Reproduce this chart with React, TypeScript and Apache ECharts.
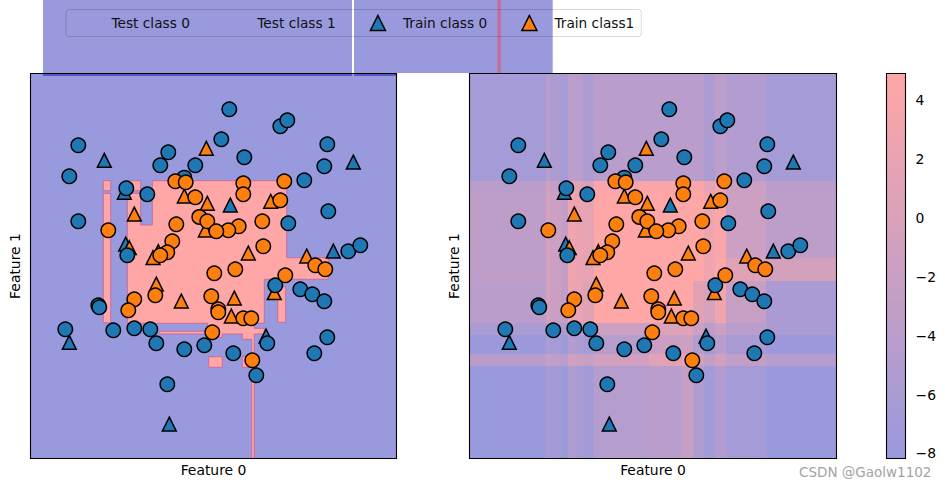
import React, { useEffect, useRef } from "react";
import * as echarts from "echarts";

// Both panels share one feature scale.
const testClass0: number[][] = [
  [229.3,109.3],[280.3,126.3],[287.3,120.3],[78.3,145.3],[327.3,144.3],[221.3,139.3],[168.3,152.3],[160.3,165.3],
  [195.3,165.3],[244.3,157.3],[324.3,166.3],[69.3,176.3],[304.3,180.3],[184.3,177.7],[126.3,188.3],[147.3,194.3],
  [78.3,221.3],[328.3,211.3],[288.3,223.3],[127.3,255.3],[348.3,251.3],[360.3,245.3],[275.3,285.3],[300.3,289.3],
  [312.3,294.3],[324.3,301.3],[98.3,305.3],[99.3,307.3],[65.3,329.3],[113.3,330.3],[134.3,328.3],[150.3,329.3],
  [156.3,343.3],[184.3,349.3],[204.3,345.3],[233.3,353.3],[267.3,343.3],[327.3,337.3],[314.3,353.3],[256.3,375.3],
  [167.3,384.3],
];
const testClass1: number[][] = [
  [175.3,181.3],[185.7,182.3],[243.3,183.3],[243.3,194.3],[284.3,181.3],[280.3,200.3],[195.3,197.3],[199.3,217],
  [207.3,221.3],[176.3,224.3],[262.3,221.3],[238.7,226.3],[228.3,230.3],[216.3,231.3],[108.3,230.3],[172.3,241.3],
  [263.3,246.3],[167.3,252.3],[160.3,255.3],[214.3,273.3],[235.3,269.3],[285.3,275.3],[315.3,265.3],[325.3,269.3],
  [134.3,299.3],[155.3,295.3],[128.3,310.3],[211.3,296.3],[218.3,309.3],[218.3,312.3],[243.3,318.3],[251.3,318.3],
  [212.3,332.3],[252.3,360.3],
];
const trainClass0: number[][] = [
  [104.3,160.3],[353.3,162],[124.3,192.3],[230.3,205],[125.7,244],[333.3,251],[69.3,342.3],[266,336],[169.3,424],
];
const trainClass1: number[][] = [
  [206.3,148.3],[184.3,196],[207.3,203.3],[270.7,201.3],[134.3,214],[205.3,230],[129.3,247.7],[158.3,251.7],
  [153,257.7],[248.3,253],[306.7,256],[156.3,284],[181.3,301],[234.3,298],[231.3,316],[274.3,292.7],
];

// Left panel: class-1 decision regions
const regions: number[][][] = [
  [[127.3,193.3],[140.7,193.3],[140.7,225],[152.3,225],[152.3,180.7],[286.7,180.7],[286.7,257.7],[328.3,257.7],
   [328.3,279.3],[264.3,279.3],[264.3,323.3],[254.3,323.3],[254.3,328.3],[264.3,328.3],[264.3,334],[254.3,334],
   [254.3,460],[251.7,460],[251.7,367.3],[242.3,367.3],[242.3,356.7],[251.7,356.7],[251.7,339.3],[242.3,339.3],
   [242.3,334],[222.3,334],[222.3,337.3],[209,337.3],[209,334],[159.3,334],[159.3,331.3],[207.7,331.3],[207.7,323.3],
   [127.3,323.3]],
  [[127.3,180.7],[140.7,180.7],[140.7,190.7],[127.3,190.7]],
  [[103.3,180.7],[110.7,180.7],[110.7,190.7],[103.3,190.7]],
  [[103.3,193.3],[110.7,193.3],[110.7,322.7],[103.3,322.7]],
  [[277.7,286.7],[285.7,286.7],[285.7,322.3],[277.7,322.3]],
  [[208.7,356.7],[222.3,356.7],[222.3,367.3],[208.7,367.3]],
];

// Right panel: decision-function levels (0 = class 0 colour, 1 = class 1 colour)
const levelXEdges = [29.5,106,110,121,128,135,143,154,209,222,242,253,264,275,286,326,396.5];
const levelYEdges = [73.5,181,192,258,281,323,335,354,366,458.5];
const levelRows: number[][] = [
  [.12,.30,.2,.12,.35,.3,.2,.3,.3,.3,.3,.3,.2,.35,.25,.12],
  [.33,.55,.42,.35,.75,.7,.6,.95,.95,.95,.95,.95,.75,.9,.5,.33],
  [.36,.6,.5,.42,.85,.8,.75,1,1,1,1,1,.85,.95,.5,.35],
  [.36,.6,.5,.42,.85,.8,.75,1,1,1,1,1,.85,1,.72,.58],
  [.33,.58,.48,.4,.82,.78,.72,1,1,1,1,.72,.6,.85,.45,.17],
  [.18,.35,.25,.2,.5,.45,.35,.5,.66,.66,.72,.5,.35,.5,.3,.17],
  [.02,.2,.12,.05,.25,.2,.12,.28,.48,.48,.52,.25,.1,.3,.15,.02],
  [.3,.45,.35,.3,.55,.5,.45,.55,.72,.72,.78,.55,.4,.55,.4,.28],
  [0,.17,.1,.03,.22,.17,.1,.27,.33,.3,.44,.22,.1,.25,.12,0],
];

const colorbarTicks = [-8,-6,-4,-2,0,2,4];
const colorbarRange = [-8.17, 4.9];

const legendNames = ["Test class 0","Test class 1","Train class 0","Train class1"];

const FONT = "DejaVu Sans";
const BLUE = "#1f77b4";
const ORANGE = "#ff7f0e";
const LOW = [153,153,221];
const HIGH = [255,166,166];
const LOW_CSS = "#9999dd";
const HIGH_CSS = "#ffa6a6";
const mix = (t: number) => {
  const c = LOW.map((l,i) => Math.round(l + (HIGH[i]-l)*t));
  return `rgb(${c[0]},${c[1]},${c[2]})`;
};

const P1 = { left: 30.5, right: 396.5, xMin: 30.5, xMax: 396.5 };
const P2 = { left: 469.5, right: 836.5, xMin: 29.5, xMax: 396.5 };
const TOP = 73.5, BOTTOM = 458.5;
const CB = { left: 886.5, right: 905.5 };

const levelCells: number[][] = [];
levelRows.forEach((row, r) => row.forEach((t, c) => {
  levelCells.push([levelXEdges[c], levelXEdges[c+1], levelYEdges[r], levelYEdges[r+1], t]);
}));

const scatter = (name: string, data: number[][], symbol: string, color: string, idx: number, size: number) => ({
  type: "scatter", name, data, symbol, symbolSize: size, xAxisIndex: idx, yAxisIndex: idx, z: 5,
  itemStyle: { color, borderColor: "#000", borderWidth: 1.5, opacity: 1 },
  emphasis: { disabled: true },
});
const marks = (idx: number) => [
  scatter("Train class 0", trainClass0, "triangle", BLUE, idx, 13.8),
  scatter("Train class1", trainClass1, "triangle", ORANGE, idx, 13.8),
  scatter("Test class 0", testClass0, "circle", BLUE, idx, 14.4),
  scatter("Test class 1", testClass1, "circle", ORANGE, idx, 14.4),
];

const xAxisOf = (idx: number, min: number, max: number) => ({
  type: "value", gridIndex: idx, min, max, name: "Feature 0", nameLocation: "middle", nameGap: 4.5,
  nameTextStyle: { fontFamily: FONT, fontSize: 13.9, color: "#000" },
  axisLine: { show: false }, axisTick: { show: false }, axisLabel: { show: false }, splitLine: { show: false },
});
const yAxisOf = (idx: number) => ({
  type: "value", gridIndex: idx, min: TOP, max: BOTTOM, inverse: true, name: "Feature 1", nameLocation: "middle", nameGap: 9,
  nameTextStyle: { fontFamily: FONT, fontSize: 13.9, color: "#000" },
  axisLine: { show: false }, axisTick: { show: false }, axisLabel: { show: false }, splitLine: { show: false },
});

const frame = (x0: number, x1: number) => ({
  type: "rect", z: 100, silent: true,
  shape: { x: x0, y: TOP, width: x1-x0, height: BOTTOM-TOP },
  style: { fill: "none", stroke: "#000", lineWidth: 1.1 },
});
const band = (x0: number, x1: number, y0: number, y1: number, fill: string, z = 0) => ({
  type: "rect", z, silent: true, shape: { x: x0, y: y0, width: x1-x0, height: y1-y0 }, style: { fill },
});

const legendIcon = "path://M5 0L10 10L0 10Z";

export default function App() {
  const ref = useRef<HTMLDivElement>(null);
  useEffect(() => {
    document.body.style.margin = "0";
    const chart = echarts.init(ref.current!, undefined, { renderer: "svg" });
    chart.setOption({
      animation: false,
      backgroundColor: "#fff",
      tooltip: { show: false },
      legend: {
        left: 66, top: 9.5, orient: "horizontal", selectedMode: false,
        padding: [5, 7, 5, 12], itemGap: 34, itemWidth: 40, itemHeight: 15,
        borderColor: "rgba(0,0,0,0.15)", borderWidth: 1, borderRadius: 3,
        textStyle: { fontFamily: FONT, fontSize: 13.7, color: "#111" },
        data: [
          { name: legendNames[0], icon: legendIcon, itemStyle: { opacity: 0 } },
          { name: legendNames[1], icon: legendIcon, itemStyle: { opacity: 0 } },
          { name: legendNames[2], icon: legendIcon, itemStyle: { color: BLUE, borderColor: "#000", borderWidth: 1.5 } },
          { name: legendNames[3], icon: legendIcon, itemStyle: { color: ORANGE, borderColor: "#000", borderWidth: 1.5 } },
        ],
      },
      grid: [
        { left: P1.left, top: TOP, width: P1.right-P1.left, height: BOTTOM-TOP, show: true, backgroundColor: LOW_CSS, borderWidth: 0 },
        { left: P2.left, top: TOP, width: P2.right-P2.left, height: BOTTOM-TOP, show: true, backgroundColor: LOW_CSS, borderWidth: 0 },
        { left: CB.left, top: TOP, width: CB.right-CB.left, height: BOTTOM-TOP, show: false },
      ],
      xAxis: [
        xAxisOf(0, P1.xMin, P1.xMax),
        xAxisOf(1, P2.xMin, P2.xMax),
        { type: "value", gridIndex: 2, min: 0, max: 1, show: false },
      ],
      yAxis: [
        yAxisOf(0),
        yAxisOf(1),
        {
          type: "value", gridIndex: 2, position: "right", min: colorbarRange[0], max: colorbarRange[1],
          axisLine: { show: false },
          splitLine: { show: false },
          axisTick: { show: true, length: 4, customValues: colorbarTicks, lineStyle: { color: "#000", width: 1 } },
          axisLabel: {
            show: true, margin: 10, customValues: colorbarTicks, fontFamily: FONT, fontSize: 13.9, color: "#000",
            formatter: (v: number) => String(v).replace("-", "\u2212"),
          },
        },
      ],
      series: [
        {
          type: "custom", xAxisIndex: 0, yAxisIndex: 0, z: 1, silent: true, clip: true,
          data: regions.map((r) => r[0]),
          renderItem: (params: any, api: any) => ({
            type: "polygon",
            shape: { points: regions[params.dataIndex].map((p) => api.coord(p)) },
            style: { fill: HIGH_CSS, stroke: "#cc6b9c", lineWidth: 1 },
          }),
        },
        {
          type: "custom", xAxisIndex: 1, yAxisIndex: 1, z: 1, silent: true, clip: true,
          data: levelCells,
          encode: { x: [0, 1], y: [2, 3] },
          renderItem: (_: any, api: any) => {
            const a = api.coord([api.value(0), api.value(2)]);
            const b = api.coord([api.value(1), api.value(3)]);
            const x0 = Math.round(a[0]), y0 = Math.round(a[1]);
            return {
              type: "rect",
              shape: { x: x0, y: y0, width: Math.round(b[0])-x0, height: Math.round(b[1])-y0 },
              style: { fill: mix(api.value(4)) },
            };
          },
        },
        {
          type: "custom", xAxisIndex: 2, yAxisIndex: 2, z: 1, silent: true,
          data: [[0, 1, colorbarRange[0], colorbarRange[1]]],
          encode: { x: [0, 1], y: [2, 3] },
          renderItem: (_: any, api: any) => {
            const a = api.coord([api.value(0), api.value(3)]);
            const b = api.coord([api.value(1), api.value(2)]);
            return {
              type: "rect",
              shape: { x: a[0], y: a[1], width: b[0]-a[0], height: b[1]-a[1] },
              style: {
                fill: new echarts.graphic.LinearGradient(0, 0, 0, 1, [
                  { offset: 0, color: HIGH_CSS }, { offset: 1, color: LOW_CSS },
                ]),
              },
            };
          },
        },
        ...marks(0),
        ...marks(1),
      ],
      graphic: { elements: [
        band(43, 352, 0, 76, LOW_CSS),
        band(354, 552.7, 0, 73, LOW_CSS),
        band(497.3, 501, 0, 73, "#c4709c", 1),
        band(43, 352, 74, 76, "#5658c4", 60),
        band(354, 396.5, 74, 76, "#5658c4", 60),
        frame(P1.left, P1.right),
        frame(P2.left, P2.right),
        frame(CB.left, CB.right),
        {
          type: "text", z: 110, silent: true, x: 799, y: 465,
          style: { text: "CSDN @Gaolw1102", fill: "#a3a3a3", fontFamily: FONT, fontSize: 13.5 },
        },
      ] },
    });
    return () => chart.dispose();
  }, []);
  return <div ref={ref} style={{ position: "fixed", left: 0, top: 0, width: 945, height: 488 }} />;
}
